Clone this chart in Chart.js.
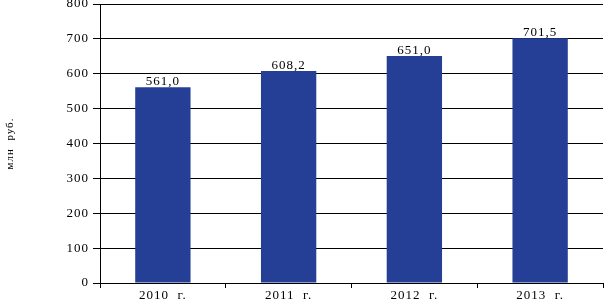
<!DOCTYPE html>
<html>
<head>
<meta charset="utf-8">
<script src="https://cdn.jsdelivr.net/npm/chart.js@4"></script>
<style>
  html, body { margin: 0; padding: 0; background: #fff; }
  #wrap { width: 604px; height: 304px; }
</style>
</head>
<body>
<div id="wrap"><canvas id="chart" width="604" height="304"></canvas></div>
<script>
const years = ['2010  г.', '2011  г.', '2012  г.', '2013  г.'];
const values = [561.0, 608.2, 651.0, 701.5];
const valueLabels = ['561,0', '608,2', '651,0', '701,5'];
const yTicks = [0, 100, 200, 300, 400, 500, 600, 700, 800];

const fontFam = '"Liberation Serif", "DejaVu Serif", serif';

// подписи над столбцами
const barLabels = {
    id: 'barLabels',
    afterDatasetsDraw(chart) {
        const ctx = chart.ctx;
        const meta = chart.getDatasetMeta(0);
        ctx.save();
        ctx.font = '13px ' + fontFam;
        ctx.letterSpacing = '1px';
        ctx.fillStyle = '#000';
        ctx.textAlign = 'center';
        ctx.textBaseline = 'alphabetic';
        meta.data.forEach((bar, i) => {
            ctx.fillText(valueLabels[i], bar.x, bar.y - 2);
        });
        ctx.restore();
    }
};

const spacing = {
    id: 'spacing',
    beforeInit(chart) { chart.ctx.letterSpacing = '1px'; },
    beforeDraw(chart) { chart.ctx.letterSpacing = '1px'; }
};

new Chart(document.getElementById('chart'), {
    type: 'bar',
    data: {
        labels: years,
        datasets: [{
            data: values,
            backgroundColor: '#263f96',
            barPercentage: 0.44,
            categoryPercentage: 1
        }]
    },
    options: {
        responsive: false,
        animation: false,
        layout: { padding: { top: 4, right: 1, left: 0, bottom: 0 } },
        plugins: {
            legend: { display: false },
            tooltip: { enabled: false }
        },
        scales: {
            x: {
                offset: true,
                grid: {
                    offset: true,
                    drawOnChartArea: false,
                    color: '#000',
                    tickLength: 5
                },
                border: { color: '#000', width: 1 },
                ticks: {
                    color: '#000',
                    padding: 1.5,
                    font: { family: fontFam, size: 13, lineHeight: 1 },
                    maxRotation: 0
                }
            },
            y: {
                min: 0,
                max: 800,
                afterBuildTicks(scale) {
                    scale.ticks = yTicks.map(v => ({ value: v }));
                },
                afterFit(scale) {
                    scale.width = 100;
                    scale.paddingTop = 0;
                    scale.paddingBottom = 0;
                },
                grid: {
                    color: '#000',
                    lineWidth: 1,
                    tickLength: 7
                },
                border: { color: '#000', width: 1 },
                ticks: {
                    color: '#000',
                    padding: 4,
                    font: { family: fontFam, size: 13 }
                },
                title: {
                    display: true,
                    text: 'млн  руб.',
                    color: '#000',
                    padding: { top: 4, bottom: 0 },
                    font: { family: fontFam, size: 11 }
                }
            }
        }
    },
    plugins: [spacing, barLabels]
});
</script>
</body>
</html>
